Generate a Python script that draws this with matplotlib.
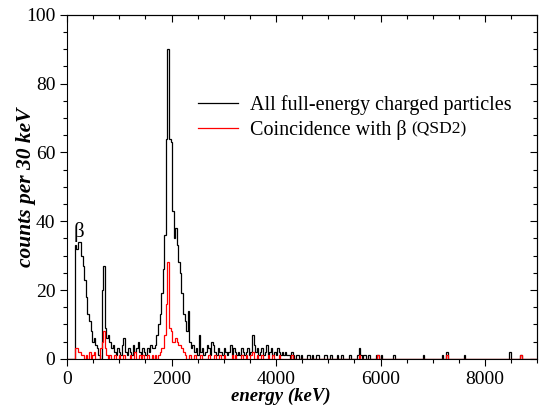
import numpy as np
import matplotlib
matplotlib.use("Agg")
import matplotlib.pyplot as plt
from matplotlib.ticker import MultipleLocator

plt.rcParams['font.family'] = ['Liberation Serif', 'DejaVu Serif']

# 30 keV bins, 0 - 9000 keV
BIN = 30
N_BINS = 300

# black: all full-energy charged particles, bins 0..149 (0 - 4500 keV)
black_low = [
    0, 0, 0, 0, 0, 33, 32, 34, 34, 30,
    27, 23, 18, 13, 11, 8, 5, 6, 4, 3,
    1, 0, 20, 27, 9, 6, 7, 5, 3, 4,
    2, 1, 3, 2, 1, 4, 6, 2, 1, 3,
    2, 1, 4, 2, 3, 5, 2, 1, 3, 2,
    1, 3, 2, 4, 3, 3, 4, 7, 10, 13,
    19, 26, 36, 64, 90, 64, 63, 43, 35, 38,
    33, 28, 25, 19, 13, 11, 8, 14, 5, 3,
    4, 2, 3, 1, 7, 2, 3, 1, 2, 4,
    3, 1, 5, 4, 2, 1, 3, 2, 2, 1,
    3, 2, 1, 2, 4, 1, 3, 2, 1, 2,
    1, 3, 2, 1, 2, 3, 1, 2, 7, 4,
    2, 3, 1, 2, 3, 1, 2, 4, 1, 2,
    3, 1, 2, 1, 3, 2, 1, 2, 1, 2,
    1, 1, 0, 2, 1, 0, 1, 1, 0, 1,
]
# black tail, sparse (bin index, counts)
black_tail_bins = [153, 154, 156, 159, 160, 164, 165, 168, 172, 175, 180, 185, 186, 187,
                   189, 190, 192, 197, 198, 200, 208, 227, 239, 242, 253, 282, 289]
black_tail_counts = [1, 1, 1, 1, 1, 1, 1, 1, 1, 1, 1, 1, 3, 1,
                     1, 1, 1, 1, 1, 1, 1, 1, 1, 2, 1, 2, 1]

# red: coincidence with beta (QSD2), bins 0..149
red_low = [
    0, 0, 0, 0, 0, 3, 3, 2, 2, 1,
    1, 0, 1, 0, 2, 0, 1, 2, 0, 0,
    0, 3, 5, 8, 3, 1, 0, 1, 0, 0,
    1, 0, 0, 1, 0, 0, 1, 0, 0, 0,
    1, 0, 0, 2, 0, 0, 1, 0, 1, 0,
    0, 1, 0, 0, 1, 0, 1, 0, 1, 2,
    3, 3, 7, 16, 28, 9, 8, 5, 5, 6,
    5, 4, 4, 3, 2, 1, 0, 0, 1, 0,
    0, 1, 0, 0, 0, 1, 0, 0, 0, 0,
    1, 0, 0, 0, 1, 0, 0, 1, 0, 0,
    1, 0, 0, 0, 0, 1, 0, 1, 0, 0,
    0, 1, 0, 0, 1, 0, 0, 1, 2, 0,
    0, 1, 0, 0, 1, 0, 0, 0, 1, 0,
    0, 1, 0, 0, 0, 1, 0, 0, 0, 0,
    0, 0, 0, 1, 0, 0, 0, 0, 0, 0,
]
red_tail_bins = [186, 198, 242, 289]
red_tail_counts = [1, 1, 1, 1]

edges = np.arange(N_BINS + 1) * BIN
black = np.zeros(N_BINS)
black[:len(black_low)] = black_low
black[black_tail_bins] = black_tail_counts
red = np.zeros(N_BINS)
red[:len(red_low)] = red_low
red[red_tail_bins] = red_tail_counts

fig = plt.figure(figsize=(5.41, 4.11), dpi=100)
ax = fig.add_axes([0.124, 0.127, 0.869, 0.837])

ax.stairs(black, edges, color='black', linewidth=0.9, label='All full-energy charged particles')
ax.stairs(red, edges, color='red', linewidth=0.9, label='Coincidence with β')

ax.set_xlim(0, 9000)
ax.set_ylim(0, 100)
ax.xaxis.set_major_locator(MultipleLocator(2000))
ax.xaxis.set_minor_locator(MultipleLocator(500))
ax.yaxis.set_major_locator(MultipleLocator(20))
ax.yaxis.set_minor_locator(MultipleLocator(5))
ax.tick_params(which='both', direction='out', top=False, right=False, labelsize=14, width=0.8)
ax.tick_params(which='major', length=5)
ax.tick_params(which='minor', length=3)
# mirrored ticks pointing inward on top / right
sec_x = ax.secondary_xaxis('top')
sec_x.xaxis.set_major_locator(MultipleLocator(2000))
sec_x.xaxis.set_minor_locator(MultipleLocator(500))
sec_x.tick_params(which='both', direction='in', labeltop=False, width=0.8)
sec_x.tick_params(which='major', length=5)
sec_x.tick_params(which='minor', length=3)
sec_y = ax.secondary_yaxis('right')
sec_y.yaxis.set_major_locator(MultipleLocator(20))
sec_y.yaxis.set_minor_locator(MultipleLocator(5))
sec_y.tick_params(which='both', direction='in', labelright=False, width=0.8)
sec_y.tick_params(which='major', length=5)
sec_y.tick_params(which='minor', length=3)

ax.set_xlabel('energy (keV)', fontsize=13.5, fontweight='bold', fontstyle='italic')
ax.xaxis.set_label_coords(0.455, -0.085)
ax.set_ylabel('counts per 30 keV', fontsize=15.5, fontweight='bold', fontstyle='italic')
ax.yaxis.set_label_coords(-0.066, 0.5)

ax.text(120, 34, 'β', fontsize=15, ha='left', va='bottom')

leg = ax.legend(loc='upper left', bbox_to_anchor=(0.24, 0.82), frameon=False,
                fontsize=14.5, handlelength=2.0, handletextpad=0.6, labelspacing=0.25)

# smaller "(QSD2)" appended after the second legend entry
fig.canvas.draw()
bb = leg.get_texts()[1].get_window_extent()
x0, y0 = fig.transFigure.inverted().transform((bb.x1 + 4, bb.y0 + 2))
fig.text(x0, y0, '(QSD2)', fontsize=12.5, ha='left', va='bottom')

fig.savefig('out.png', dpi=100)
